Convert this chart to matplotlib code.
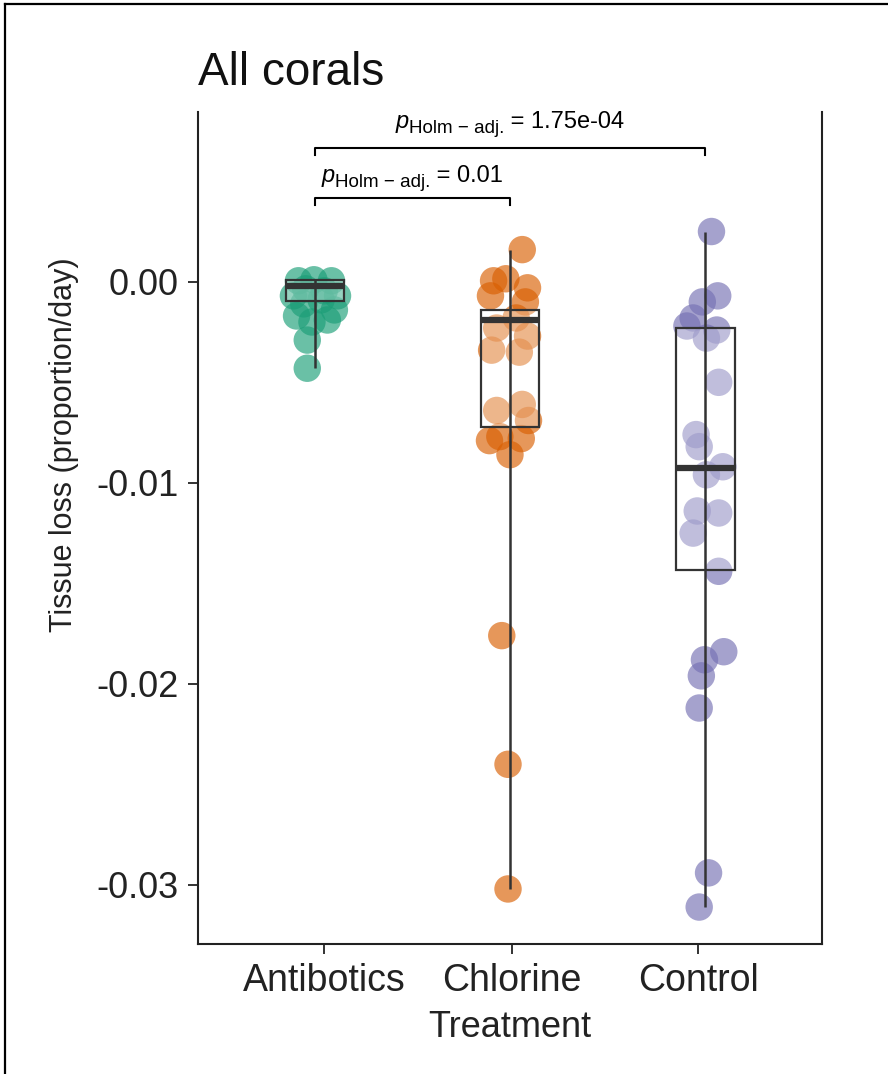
# tissue loss per treatment, all corals
import matplotlib.pyplot as plt
from matplotlib.lines import Line2D
import numpy as np

plt.rcParams['font.family'] = ['Liberation Sans', 'DejaVu Sans']

treatments = ['Antibotics', 'Chlorine', 'Control']
colors = ['#1B9E77', '#D95F02', '#7570B3']

# points (value, horizontal jitter)
anti_vals = [0.00005, 0.0001, 0.00005, -0.00035, -0.00045, -0.0007, -0.0007, -0.0011,
             -0.0009, -0.0014, -0.0017, -0.002, -0.0019, -0.0029, -0.0043]
anti_jit = [-0.085, -0.006, 0.084, -0.048, 0.047, -0.111, 0.115, -0.058,
            0.031, 0.099, -0.095, -0.016, 0.063, -0.04, -0.04]

chlo_vals = [0.0016, 0.00005, 0.00015, -0.0003, -0.0007, -0.001, -0.0018, -0.0023,
             -0.0027, -0.0034, -0.0035, -0.0061, -0.0064, -0.0069, -0.0077, -0.0078,
             -0.0086, -0.0079, -0.0176, -0.024, -0.0302]
chlo_jit = [0.062, -0.085, -0.022, 0.089, -0.101, 0.078, 0.031, -0.069,
            0.089, -0.095, 0.047, 0.062, -0.069, 0.094, -0.053, 0.057,
            -0.001, -0.106, -0.043, -0.011, -0.011]

ctrl_vals = [0.0025, -0.0007, -0.001, -0.0018, -0.0024, -0.0022, -0.0028, -0.005,
             -0.0076, -0.0082, -0.0092, -0.0096, -0.0114, -0.0115, -0.0125, -0.0144,
             -0.0184, -0.0188, -0.0196, -0.0212, -0.0294, -0.0311]
ctrl_jit = [0.032, 0.064, -0.015, -0.062, 0.059, -0.094, 0.006, 0.069,
            -0.047, -0.031, 0.09, 0.006, -0.041, 0.069, -0.062, 0.069,
            0.095, -0.004, -0.02, -0.031, 0.017, -0.031]

# box statistics
box_q1 = [-0.00095, -0.0072, -0.01433]
box_med = [-0.0002, -0.0019, -0.00925]
box_q3 = [0.0001, -0.0014, -0.00229]

p_labels = ['0.01', '1.75e-04']

fig = plt.figure(figsize=(8.88, 10.74), dpi=100)
ax = fig.add_axes([0.223, 0.121, 0.703, 0.775])

vals = [anti_vals, chlo_vals, ctrl_vals]
jits = [anti_jit, chlo_jit, ctrl_jit]
for i in range(3):
    ax.scatter(i + 1 + np.array(jits[i]), vals[i], s=390, color=colors[i],
               alpha=0.65, edgecolors='none', zorder=2)

stats = []
for i in range(3):
    stats.append(dict(med=box_med[i], q1=box_q1[i], q3=box_q3[i],
                      whislo=box_q1[i], whishi=box_q3[i], fliers=[]))
ax.bxp(stats, positions=[1, 2, 3], widths=0.3, showfliers=False, patch_artist=True,
       manage_ticks=False,
       boxprops=dict(facecolor=(1, 1, 1, 0.3), edgecolor='#333333', linewidth=1.6),
       medianprops=dict(color='#333333', linewidth=4.5),
       whiskerprops=dict(linewidth=0), capprops=dict(linewidth=0), zorder=3)
# min-max line through each box
for i in range(3):
    ax.vlines(i + 1, min(vals[i]), max(vals[i]), color='#333333', lw=1.8, zorder=4)

ax.set_xlim(0.4, 3.6)
ax.set_ylim(-0.03294, 0.00846)
# the ticks in the source sit a little off the box centres
ax.set_xticks([1.045, 2.01, 2.965])
ax.set_xticklabels(treatments)
ax.set_yticks([0, -0.01, -0.02, -0.03])
ax.set_yticklabels(['0.00', '-0.01', '-0.02', '-0.03'])
ax.tick_params(labelsize=27, length=7, width=1.4, color='#333333', labelcolor='#222222')
ax.tick_params(axis='x', pad=6.5)
ax.tick_params(axis='y', labelsize=26, pad=7)
ax.spines['top'].set_visible(False)
for s in ['left', 'right', 'bottom']:
    ax.spines[s].set_linewidth(1.5)
    ax.spines[s].set_color('#222222')

ax.set_ylabel('Tissue loss (proportion/day)', fontsize=22, color='#222222')
ax.yaxis.set_label_coords(-0.19, 0.60)
ax.set_xlabel('Treatment', fontsize=26, labelpad=8, color='#222222')
ax.set_title('All corals', loc='left', fontsize=33, pad=19, color='#111111')

# significance brackets
ax.plot([1, 1, 2, 2], [0.00383, 0.00418, 0.00418, 0.00383], color='black', lw=1.5, clip_on=False)
ax.plot([1, 1, 3, 3], [0.00632, 0.00667, 0.00667, 0.00632], color='black', lw=1.5, clip_on=False)

# p labels: italic p, large subscript, then the value
r = fig.canvas.get_renderer()


def p_label(xc, y, value):
    pieces = [('p', 17, 'italic', 0), ('Holm \u2212 adj.', 13.5, 'normal', -3.5),
              (' = ' + value, 17, 'normal', 0)]
    widths = []
    for s, fs, st, dy in pieces:
        t = ax.text(0, 0, s, fontsize=fs, style=st)
        widths.append(t.get_window_extent(r).width * 72 / fig.dpi)
        t.remove()
    x = -sum(widths) / 2
    for (s, fs, st, dy), w in zip(pieces, widths):
        ax.annotate(s, xy=(xc, y), xytext=(x, dy), textcoords='offset points',
                    fontsize=fs, style=st, ha='left', va='baseline', annotation_clip=False)
        x += w


p_label(1.5, 0.00497, p_labels[0])
p_label(2.0, 0.00766, p_labels[1])

# frame around the figure (left and top edges only visible)
fig.add_artist(Line2D([5 / 888, 5 / 888], [0, 1 - 4 / 1074], transform=fig.transFigure, color='black', lw=1.6))
fig.add_artist(Line2D([5 / 888, 1], [1 - 4 / 1074, 1 - 4 / 1074], transform=fig.transFigure, color='black', lw=1.6))

fig.savefig('out.png', dpi=100)
